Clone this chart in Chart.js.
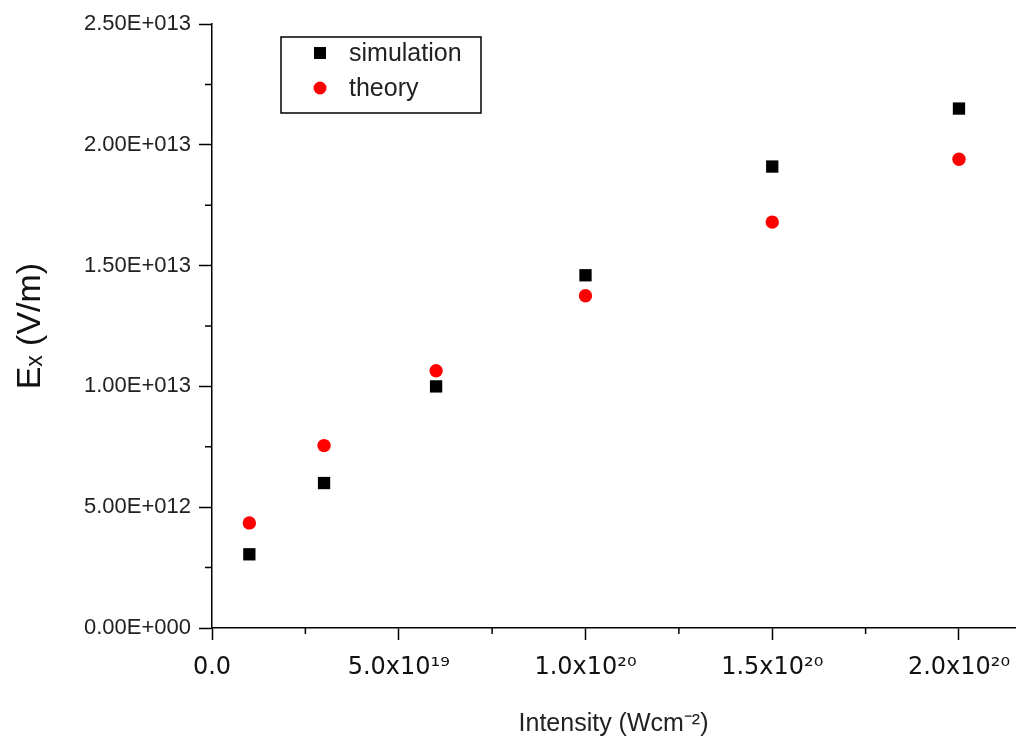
<!DOCTYPE html>
<html lang="en">
<head>
  <meta charset="UTF-8">
  <title>Ex vs intensity</title>
  <script src="https://cdn.jsdelivr.net/npm/chart.js@4.4.0/dist/chart.umd.min.js"></script>
  <style>
    body { margin: 0; background: #fff; }
    #wrap { width: 1017px; height: 741px; }
  </style>
</head>
<body>
  <div id="wrap"><canvas id="exchart" width="1017" height="741"></canvas></div>
  <script>
    // values
    const intensity = [1e19, 3e19, 6e19, 1e20, 1.5e20, 2e20];
    const simulation = [3.05e12, 6.0e12, 1.0e13, 1.46e13, 1.91e13, 2.15e13];
    const theory = [4.35e12, 7.55e12, 1.065e13, 1.375e13, 1.68e13, 1.94e13];
    const seriesNames = ['simulation', 'theory'];
    const xTicks = [0, 5e19, 1e20, 1.5e20, 2e20];
    const yTicks = [0, 5e12, 1e13, 1.5e13, 2e13, 2.5e13];

    const SUP = { '0': '⁰', '1': '¹', '2': '²', '3': '³', '4': '⁴', '5': '⁵', '6': '⁶', '7': '⁷', '8': '⁸', '9': '⁹', '-': '⁻' };
    function sup(s) {
      return String(s).split('').map(c => SUP[c] || c).join('');
    }
    function xLabel(v) {
      if (v === 0) return '0.0';
      const parts = v.toExponential(1).split('e');
      return parts[0] + 'x10' + sup(parseInt(parts[1]));
    }
    function yLabel(v) {
      const parts = v.toExponential(2).split('e');
      const n = parseInt(parts[1]);
      return parts[0] + 'E' + (n < 0 ? '-' : '+') + String(Math.abs(n)).padStart(3, '0');
    }
    const toPoints = arr => arr.map((v, i) => ({ x: intensity[i], y: v }));

    // short minor ticks half way between the labelled ones
    const minorTicks = {
      id: 'minorTicks',
      afterDraw(chart) {
        const { ctx, scales: { x, y } } = chart;
        ctx.save();
        ctx.strokeStyle = '#000';
        ctx.lineWidth = 1.5;
        ctx.beginPath();
        for (let i = 0; i < x.ticks.length - 1; i++) {
          const px = x.getPixelForValue((x.ticks[i].value + x.ticks[i + 1].value) / 2);
          ctx.moveTo(px, x.top);
          ctx.lineTo(px, x.top + 6);
        }
        for (let i = 0; i < y.ticks.length - 1; i++) {
          const py = y.getPixelForValue((y.ticks[i].value + y.ticks[i + 1].value) / 2);
          ctx.moveTo(y.right, py);
          ctx.lineTo(y.right - 7, py);
        }
        ctx.stroke();
        ctx.restore();
      }
    };

    // boxed legend in the upper left of the plot
    const boxLegend = {
      id: 'boxLegend',
      afterDraw(chart) {
        const ctx = chart.ctx;
        ctx.save();
        ctx.strokeStyle = '#000';
        ctx.lineWidth = 1.5;
        ctx.strokeRect(281, 37, 200, 76);
        ctx.font = '25px "Liberation Sans", Arial, sans-serif';
        ctx.textBaseline = 'middle';
        chart.data.datasets.forEach((ds, i) => {
          const cy = 53 + i * 35;
          ctx.fillStyle = ds.backgroundColor;
          if (ds.pointStyle === 'rect') {
            ctx.fillRect(320 - 6, cy - 6, 12, 12);
          } else {
            ctx.beginPath();
            ctx.arc(320, cy, 6.5, 0, Math.PI * 2);
            ctx.fill();
          }
          ctx.fillStyle = '#222';
          ctx.fillText(ds.label, 349, cy + 1);
        });
        ctx.restore();
      }
    };

    const ctx = document.getElementById('exchart').getContext('2d');
    new Chart(ctx, {
      type: 'scatter',
      data: {
        datasets: [{
          label: seriesNames[0],
          data: toPoints(simulation),
          pointStyle: 'rect',
          pointRadius: 8.7,
          backgroundColor: '#000',
          borderColor: '#000',
          borderWidth: 0
        }, {
          label: seriesNames[1],
          data: toPoints(theory),
          pointStyle: 'circle',
          pointRadius: 6.7,
          backgroundColor: '#f00',
          borderColor: '#f00',
          borderWidth: 0
        }]
      },
      options: {
        responsive: false,
        animation: false,
        layout: { autoPadding: false, padding: { top: 24, right: 2, left: 0, bottom: 0 } },
        plugins: {
          legend: { display: false },
          tooltip: { enabled: false }
        },
        scales: {
          x: {
            type: 'linear',
            min: 0,
            max: 2.15e20,
            afterBuildTicks: s => { s.ticks = xTicks.map(v => ({ value: v })); },
            afterFit: s => { s.height = 113; s.paddingRight = 0; s.paddingLeft = 0; },
            border: { color: '#000', width: 1.5 },
            grid: { drawOnChartArea: false, tickLength: 12, tickColor: '#000', tickWidth: 1.5 },
            ticks: {
              maxRotation: 0,
              autoSkip: false,
              padding: 13,
              color: '#111',
              font: { family: '"DejaVu Sans", sans-serif', size: 24 },
              callback: v => xLabel(v)
            },
            title: {
              display: true,
              text: 'Intensity (Wcm' + sup(-2) + ')',
              color: '#222',
              font: { family: '"Liberation Sans", Arial, sans-serif', size: 25 },
              padding: { top: 0, bottom: 2 }
            }
          },
          y: {
            min: 0,
            max: 2.5e13,
            afterBuildTicks: s => { s.ticks = yTicks.map(v => ({ value: v })); },
            afterFit: s => { s.width = 212; },
            border: { color: '#000', width: 1.5 },
            grid: { drawOnChartArea: false, tickLength: 13, tickColor: '#000', tickWidth: 1.5 },
            ticks: {
              autoSkip: false,
              padding: 8,
              color: '#222',
              font: { family: '"Liberation Sans", Arial, sans-serif', size: 22 },
              callback: v => yLabel(v)
            },
            title: {
              display: true,
              text: 'Eₓ (V/m)',
              color: '#111',
              font: { family: '"Liberation Sans", Arial, sans-serif', size: 34 },
              padding: { top: 10, bottom: 0 }
            }
          }
        }
      },
      plugins: [minorTicks, boxLegend]
    });
  </script>
</body>
</html>
